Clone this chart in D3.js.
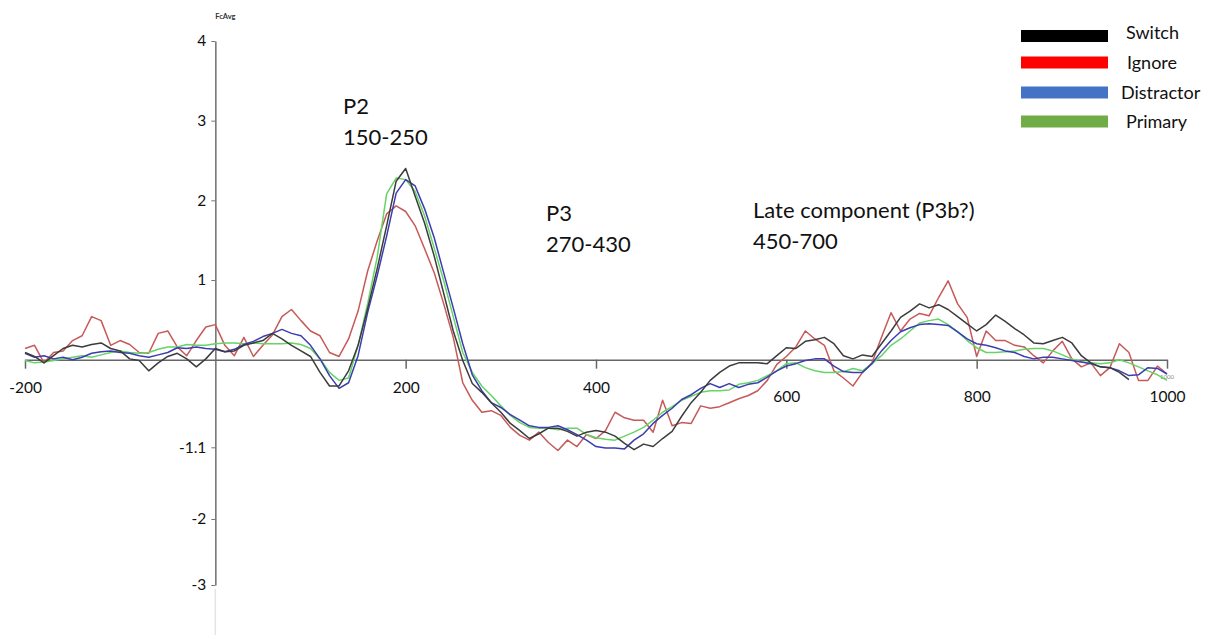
<!DOCTYPE html>
<html>
<head>
<meta charset="utf-8">
<script src="https://cdn.jsdelivr.net/npm/d3@7"></script>
<style>
  body { margin: 0; background: #fff; }
  svg { display: block; font-family: Lato, "Open Sans", sans-serif; }
</style>
</head>
<body>
<svg id="chart" width="1210" height="635"></svg>
<script>
// sample times (ms), one value every 10 ms
const times = d3.range(-200, 1001, 10);

const switchVals = [
  0.09, 0.04, -0.04, 0.05, 0.14, 0.18, 0.16, 0.19, 0.21, 0.14,
  0.11, 0.01, -0.01, -0.14, -0.04, 0.04, 0.08, 0.01, -0.09, 0.01,
  0.14, 0.10, 0.11, 0.18, 0.21, 0.24, 0.33, 0.26, 0.18, 0.11,
  0.04, -0.16, -0.33, -0.33, -0.14, 0.18, 0.64, 1.14, 1.68, 2.24,
  2.40, 2.05, 1.71, 1.30, 0.83, 0.36, -0.01, -0.30, -0.41, -0.54,
  -0.66, -0.80, -0.89, -0.99, -0.93, -0.86, -0.86, -0.90, -0.96, -0.91,
  -0.89, -0.91, -0.96, -1.05, -1.13, -1.06, -1.09, -0.99, -0.90, -0.71,
  -0.54, -0.41, -0.26, -0.16, -0.08, -0.04, -0.04, -0.04, -0.05, 0.05,
  0.15, 0.14, 0.23, 0.25, 0.28, 0.20, 0.05, 0.01, 0.06, 0.04,
  0.20, 0.36, 0.53, 0.61, 0.70, 0.65, 0.69, 0.63, 0.54, 0.45,
  0.36, 0.44, 0.56, 0.48, 0.39, 0.31, 0.21, 0.20, 0.24, 0.28,
  0.21, 0.05, -0.04, -0.09, -0.10, -0.16, -0.25, null, null, null,
  null
];

const ignoreVals = [
  0.14, 0.18, -0.04, 0.09, 0.11, 0.24, 0.30, 0.54, 0.49, 0.18,
  0.24, 0.19, 0.09, 0.08, 0.33, 0.36, 0.16, 0.05, 0.24, 0.41,
  0.44, 0.18, 0.05, 0.28, 0.04, 0.18, 0.31, 0.54, 0.63, 0.49,
  0.36, 0.30, 0.09, 0.04, 0.26, 0.61, 1.11, 1.49, 1.83, 1.93,
  1.86, 1.68, 1.39, 1.09, 0.70, 0.28, -0.29, -0.51, -0.66, -0.64,
  -0.70, -0.85, -0.95, -1.01, -0.91, -1.04, -1.14, -1.01, -1.09, -0.94,
  -0.99, -0.89, -0.66, -0.73, -0.76, -0.76, -0.91, -0.51, -0.83, -0.79,
  -0.80, -0.58, -0.61, -0.59, -0.54, -0.49, -0.45, -0.39, -0.26, -0.06,
  0.04, 0.16, 0.36, 0.26, 0.18, -0.14, -0.23, -0.33, -0.16, -0.04,
  0.28, 0.59, 0.36, 0.51, 0.58, 0.55, 0.78, 0.99, 0.70, 0.53,
  0.04, 0.36, 0.24, 0.24, 0.18, 0.16, 0.05, -0.04, 0.11, 0.23,
  0.01, -0.09, -0.04, -0.20, -0.10, 0.20, 0.09, -0.26, -0.26, -0.08,
  -0.18
];

const distractorVals = [
  0.08, 0.03, 0.05, 0.01, 0.03, 0.00, 0.03, 0.08, 0.10, 0.11,
  0.09, 0.08, 0.05, 0.03, 0.06, 0.09, 0.15, 0.14, 0.16, 0.14,
  0.13, 0.10, 0.13, 0.19, 0.23, 0.29, 0.33, 0.38, 0.33, 0.30,
  0.18, 0.01, -0.20, -0.36, -0.29, 0.05, 0.59, 1.05, 1.55, 2.09,
  2.26, 2.18, 1.89, 1.53, 1.09, 0.65, 0.20, -0.19, -0.39, -0.54,
  -0.60, -0.69, -0.76, -0.83, -0.85, -0.85, -0.83, -0.88, -0.94, -1.01,
  -1.09, -1.11, -1.11, -1.12, -1.01, -0.93, -0.80, -0.70, -0.61, -0.50,
  -0.44, -0.36, -0.30, -0.35, -0.30, -0.35, -0.31, -0.29, -0.22, -0.14,
  -0.08, -0.05, -0.01, 0.01, 0.01, -0.08, -0.15, -0.16, -0.16, -0.05,
  0.11, 0.24, 0.35, 0.40, 0.44, 0.45, 0.44, 0.43, 0.35, 0.26,
  0.20, 0.18, 0.15, 0.11, 0.09, 0.04, 0.01, 0.03, 0.03, 0.01,
  -0.01, -0.03, -0.05, -0.09, -0.10, -0.14, -0.20, -0.19, -0.10, -0.11,
  -0.18
];

const primaryVals = [
  -0.01, -0.04, -0.03, -0.01, 0.01, 0.03, 0.05, 0.03, 0.06, 0.09,
  0.11, 0.09, 0.08, 0.09, 0.13, 0.16, 0.16, 0.19, 0.18, 0.18,
  0.20, 0.21, 0.21, 0.20, 0.21, 0.20, 0.20, 0.20, 0.21, 0.19,
  0.14, 0.01, -0.16, -0.26, -0.23, 0.18, 0.70, 1.28, 2.08, 2.28,
  2.26, 2.11, 1.80, 1.40, 0.99, 0.54, 0.09, -0.16, -0.33, -0.45,
  -0.58, -0.70, -0.79, -0.85, -0.86, -0.86, -0.88, -0.86, -0.86, -0.94,
  -0.98, -1.00, -1.01, -0.96, -0.91, -0.85, -0.76, -0.66, -0.59, -0.51,
  -0.46, -0.41, -0.39, -0.39, -0.38, -0.31, -0.29, -0.26, -0.20, -0.14,
  -0.05, -0.04, -0.10, -0.14, -0.16, -0.16, -0.15, -0.11, -0.14, -0.05,
  0.05, 0.18, 0.26, 0.36, 0.46, 0.49, 0.51, 0.44, 0.35, 0.24,
  0.15, 0.09, 0.09, 0.10, 0.11, 0.13, 0.14, 0.14, 0.11, 0.06,
  0.01, -0.03, -0.04, -0.05, -0.04, 0.00, -0.04, -0.09, -0.14, -0.19,
  -0.26
];

const yTicks = [4, 3, 2, 1, -1.1, -2, -3];
const xTicks = [-200, 200, 400, 600, 800, 1000];

const seriesNames = ["Switch", "Ignore", "Distractor", "Primary"];
const traceColors = ["#3c3c3c", "#c65a58", "#3b3db0", "#66d466"];
const keyColors = ["#000000", "#ff0000", "#4472c4", "#70ad47"];

const annotations = [
  { lines: ["P2", "150-250"], x: 343, y: 114 },
  { lines: ["P3", "270-430"], x: 546, y: 221 },
  { lines: ["Late component (P3b?)", "450-700"], x: 753, y: 218 }
];

const svg = d3.select("#chart");

const x = d3.scaleLinear().domain([-200, 1000]).range([25, 1167]);
// below -2 the source picture is squeezed a little
const y = d3.scaleLinear().domain([-3, -2, 4]).range([585, 519, 41]);

// y axis
const yAxis = svg.append("g")
  .attr("transform", `translate(${x(0)},0)`)
  .call(d3.axisLeft(y).tickValues(yTicks).tickSize(4).tickSizeOuter(0)
    .tickPadding(5).tickFormat(d => String(d)));
yAxis.select(".domain").attr("stroke", "#777").attr("stroke-width", 1.6);
yAxis.selectAll(".tick line").attr("stroke", "#777");
yAxis.selectAll("text").attr("font-size", 15.5).attr("fill", "#111")
  .attr("font-family", "Lato, sans-serif");

// faint tail of the y axis under -3
svg.append("line")
  .attr("x1", x(0)).attr("x2", x(0))
  .attr("y1", y(-3) + 4).attr("y2", 635)
  .attr("stroke", "#e4e4e4").attr("stroke-width", 1.5);

// x axis
const xAxis = svg.append("g")
  .attr("transform", `translate(0,${y(0)})`)
  .call(d3.axisBottom(x).tickValues(xTicks).tickSize(9).tickSizeOuter(0)
    .tickPadding(13).tickFormat(d => String(d)));
xAxis.select(".domain").attr("stroke", "#666").attr("stroke-width", 1.5);
xAxis.selectAll(".tick line").attr("stroke", "#666").attr("stroke-width", 1.5);
xAxis.selectAll("text").attr("font-size", 15.5).attr("fill", "#111")
  .attr("font-family", "Lato, sans-serif")
  .attr("dy", d => d >= 600 ? "1.3em" : "0.71em");

// tiny label at the end of the axis
svg.append("text")
  .attr("x", x(1000)).attr("y", y(0) + 19)
  .attr("text-anchor", "middle")
  .attr("font-size", 6).attr("fill", "#888")
  .text("1000");

// axis title
svg.append("text")
  .attr("x", x(0)).attr("y", 19)
  .attr("font-size", 7.5).attr("font-weight", "bold").attr("fill", "#333")
  .text("FcAvg");

// traces
const line = d3.line()
  .defined(d => d[1] !== null)
  .x(d => x(d[0]))
  .y(d => y(d[1]));

const seriesVals = [switchVals, ignoreVals, distractorVals, primaryVals];
const drawOrder = [1, 3, 2, 0];
drawOrder.forEach(i => {
  svg.append("path")
    .datum(times.map((t, k) => [t, seriesVals[i][k]]))
    .attr("fill", "none")
    .attr("stroke", traceColors[i])
    .attr("stroke-width", 1.5)
    .attr("stroke-linejoin", "round")
    .attr("d", line);
});

// component labels
annotations.forEach(a => {
  const t = svg.append("text")
    .attr("x", a.x).attr("y", a.y)
    .attr("font-size", 22).attr("fill", "#111");
  a.lines.forEach((s, k) => {
    t.append("tspan").attr("x", a.x).attr("dy", k === 0 ? 0 : 31).text(s);
  });
});

// legend
const legend = svg.append("g");
seriesNames.forEach((name, i) => {
  const ly = [36, 62.5, 92.5, 121.5][i];
  legend.append("rect")
    .attr("x", 1021).attr("y", ly - 6)
    .attr("width", 87).attr("height", 12)
    .attr("fill", keyColors[i]);
  legend.append("text")
    .attr("x", [1126, 1127, 1121, 1126][i])
    .attr("y", [33, 63, 93, 122][i] + 6)
    .attr("font-size", 18).attr("fill", "#111")
    .text(name);
});
</script>
</body>
</html>
